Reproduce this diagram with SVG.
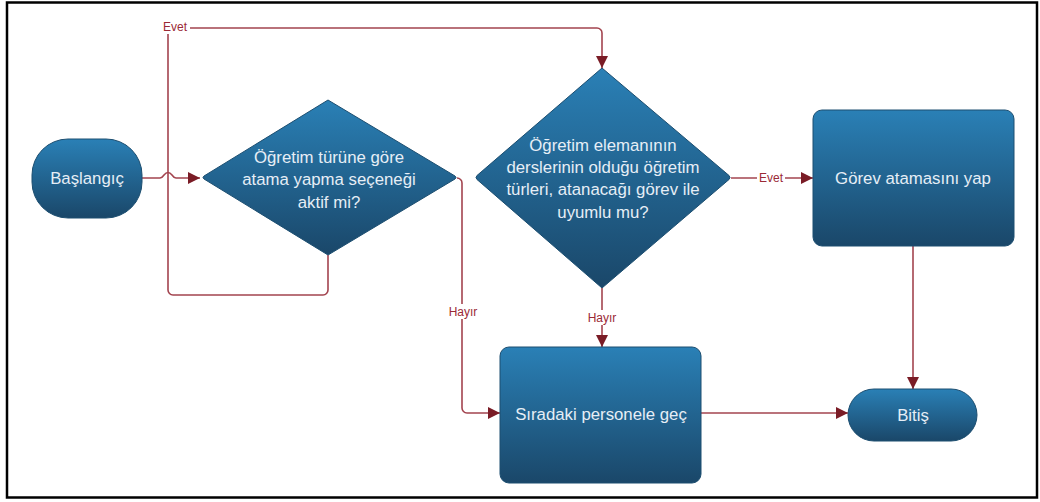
<svg xmlns="http://www.w3.org/2000/svg" width="1040" height="502" viewBox="0 0 1040 502">
<defs>
<linearGradient id="g" x1="0" y1="0" x2="0" y2="1">
<stop offset="0" stop-color="#2a80b6"/>
<stop offset="1" stop-color="#1a4769"/>
</linearGradient>
<marker id="ahL" viewBox="0 0 12 12" refX="12" refY="6" markerWidth="12" markerHeight="12" markerUnits="userSpaceOnUse" orient="auto">
<path d="M0,0 L12,6 L0,12 z" fill="#7a1c26"/>
</marker>
</defs>
<style>
.n{fill:url(#g);stroke:#1c4e70;stroke-width:1}
.t{font-family:"Liberation Sans",Arial,sans-serif;font-size:16.8px;fill:#e6eef6;text-anchor:middle}
.c{fill:none;stroke:#a3444f;stroke-width:1.6}
.l{font-family:"Liberation Sans",Arial,sans-serif;font-size:12px;fill:#9b2a36;text-anchor:middle}
.lb{fill:#ffffff}
</style>
<rect x="0" y="0" width="1040" height="502" fill="#ffffff"/>
<rect x="7" y="2.5" width="1030" height="495" fill="none" stroke="#000" stroke-width="2.5"/>
<g id="connectors">
<path class="c" d="M142,178 H160 q2,0 4,-3 q4,-5 8,0 q2,3 4,3 H200" marker-end="url(#ahL)"/>
<path class="c" d="M328,255 V290 a5,5 0 0 1 -5,5 H173 a5,5 0 0 1 -5,-5 V28 H597 a5,5 0 0 1 5,5 V68" marker-end="url(#ahL)"/>
<path class="c" d="M457,178 H457 a5,5 0 0 1 5,5 V408 a5,5 0 0 0 5,5 H500" marker-end="url(#ahL)"/>
<path class="c" d="M731,178 H813" marker-end="url(#ahL)"/>
<path class="c" d="M602,288 V347" marker-end="url(#ahL)"/>
<path class="c" d="M701,413 H848" marker-end="url(#ahL)"/>
<path class="c" d="M913,246 V389" marker-end="url(#ahL)"/>
<rect class="lb" x="160" y="19" width="30" height="15"/>
<text class="l" x="175" y="31">Evet</text>
<rect class="lb" x="449" y="304" width="28" height="15"/>
<text class="l" x="463" y="316">Hayır</text>
<rect class="lb" x="757" y="171" width="28" height="15"/>
<text class="l" x="771" y="182">Evet</text>
<rect class="lb" x="588" y="310" width="28" height="15"/>
<text class="l" x="602" y="322">Hayır</text>
</g>
<g id="baslangic">
<rect class="n" x="32" y="139" width="110" height="79" rx="36" ry="36"/>
<text class="t" x="87" y="184">Başlangıç</text>
</g>
<g id="karar1">
<path class="n" d="M328,100 L455,176 Q457,177.5 455,179 L328,255 L204,179 Q202,177.5 204,176 Z"/>
<text class="t" x="329" y="163">Öğretim türüne göre</text>
<text class="t" x="329" y="185">atama yapma seçeneği</text>
<text class="t" x="329" y="208">aktif mi?</text>
</g>
<g id="karar2">
<path class="n" d="M602,68 L729,175.5 Q731,177.5 729,179.5 L602,288 L477,179.5 Q475,177.5 477,175.5 Z"/>
<text class="t" x="603" y="151">Öğretim elemanının</text>
<text class="t" x="603" y="173">derslerinin olduğu öğretim</text>
<text class="t" x="603" y="195">türleri, atanacağı görev ile</text>
<text class="t" x="603" y="218">uyumlu mu?</text>
</g>
<g id="gorev">
<rect class="n" x="813" y="110" width="201" height="136" rx="9" ry="9"/>
<text class="t" x="913" y="184">Görev atamasını yap</text>
</g>
<g id="siradaki">
<rect class="n" x="500" y="347" width="201" height="136" rx="9" ry="9"/>
<text class="t" x="601" y="420">Sıradaki personele geç</text>
</g>
<g id="bitis">
<rect class="n" x="848" y="389" width="129" height="52" rx="26" ry="26"/>
<text class="t" x="913" y="421">Bitiş</text>
</g>
</svg>
